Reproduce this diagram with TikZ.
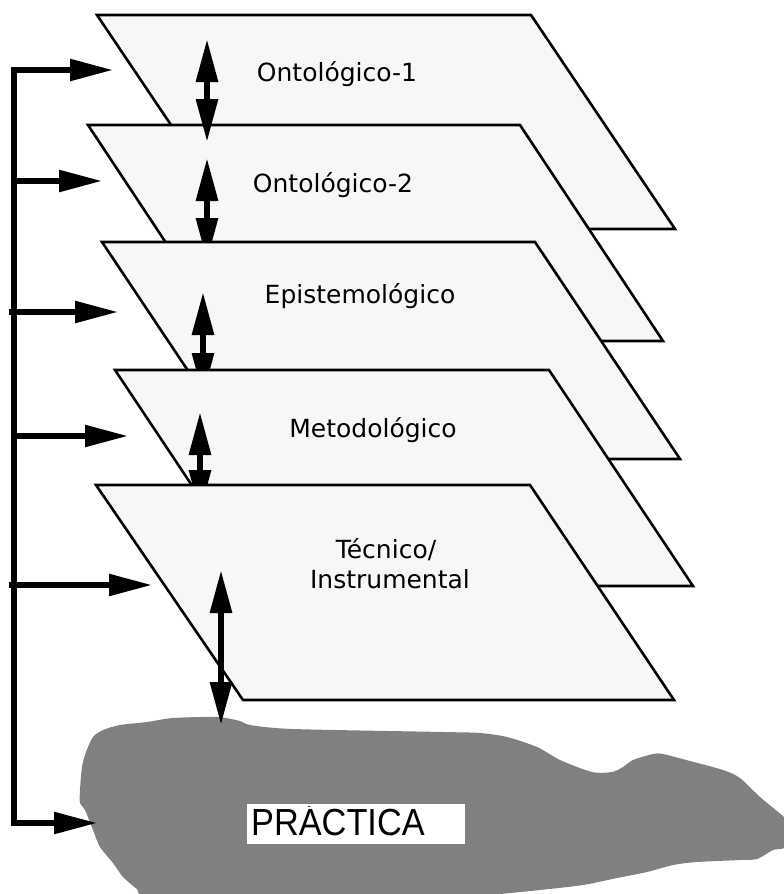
\documentclass[tikz,border=0pt]{standalone}
\usepackage{fontspec}
\setmainfont{DejaVu Sans}
\newfontfamily\pracfont{Liberation Sans}
\usetikzlibrary{arrows.meta}
\definecolor{planefill}{RGB}{247,247,247}
\definecolor{blobgray}{RGB}{128,128,128}
\tikzset{
  plane/.style={draw=black, line width=2.6pt, fill=planefill, line join=miter},
  feed/.style={line width=5.5pt, -{Triangle[length=43pt,width=21pt]}},
  link/.style={line width=6pt, {Triangle[length=43pt,width=21pt]}-{Triangle[length=43pt,width=21pt]}},
  bracket/.style={line width=5.5pt, line join=miter, {Triangle[length=43pt,width=21pt]}-{Triangle[length=43pt,width=21pt]}},
  lbl/.style={font=\fontsize{25pt}{30pt}\selectfont, anchor=base, inner sep=0pt}
}
\begin{document}
\begin{tikzpicture}[x=1pt,y=-1pt]
\useasboundingbox (0,0) rectangle (784,894);
\begin{scope}
\clip (0,0) rectangle (784,894);
% practice blob
\fill[blobgray] plot[smooth cycle, tension=0.45] coordinates {
 (80,790) (82,767) (86,752) (93,737) (103,730) (120,725) (147,722) (173,718)
 (217,717) (240,721) (250,725) (293,729) (443,732) (480,733) (507,737)
 (537,747) (560,760) (592,772) (612,772) (623,767) (633,760) (653,754)
 (663,754) (690,761) (723,770) (740,778) (760,797) (784,817) (800,835)
 (784,848) (773,850) (757,859) (740,860) (697,862) (673,865) (647,872)
 (617,878) (583,885) (540,890) (490,895) (440,900) (300,905) (153,900)
 (137,889) (123,877) (113,863) (100,847) (93,830) (85,810) (80,803)};
\end{scope}
\node[fill=white, minimum width=218pt, minimum height=40pt, inner sep=0pt, anchor=north west] (practica) at (247,804) {};
\begin{scope}
\clip (247,806.5) rectangle (practica.south east);
\node[anchor=base west, inner sep=0pt, font=\pracfont\fontsize{37.7pt}{40pt}\selectfont] (practxt) at (251,835) {\scalebox{0.91}[1]{PRÁCTICA}};
\end{scope}

% planes
\draw[plane] (97,15) -- (531,15) -- (675,229) -- (241,229) -- cycle;
\draw[plane] (88,125) -- (520,125) -- (663,341) -- (231,341) -- cycle;
\node[lbl] (ont1) at (337,81) {Ontológico-1};
\coordinate (a1t) at (207,39); \coordinate (a1b) at (207,142);
\draw[link] (a1t) -- (a1b);
\node[lbl] (ont2) at (333,192) {Ontológico-2};
\coordinate (a2t) at (207,158); \coordinate (a2b) at (207,261);
\draw[link] (a2t) -- (a2b);
\draw[plane] (102,242) -- (535,242) -- (680,459) -- (247,459) -- cycle;
\node[lbl] (epi) at (360,303) {Epistemológico};
\coordinate (a3t) at (203,292); \coordinate (a3b) at (203,396);
\draw[link] (a3t) -- (a3b);
\draw[plane] (115,370) -- (549,370) -- (693,586) -- (259,586) -- cycle;
\node[lbl] (met) at (373,437) {Metodológico};
\coordinate (a4t) at (200,412); \coordinate (a4b) at (200,513);
\draw[link] (a4t) -- (a4b);
\draw[plane] (96,485) -- (530,485) -- (674,700) -- (243,700) -- cycle;
\node[lbl] (tec1) at (386,558) {Técnico/};
\node[lbl] (tec2) at (390,588) {Instrumental};
\coordinate (a5t) at (221,570); \coordinate (a5b) at (221,725);
\draw[link] (a5t) -- (a5b);

% feedback bracket
\coordinate (f1) at (113,70);
\coordinate (c1) at (14,70);
\coordinate (c6) at (14,823);
\coordinate (f6) at (97,823);
\draw[bracket] (f1) -- (c1) -- (c6) -- (f6);
\coordinate (s2) at (14,181); \coordinate (f2) at (102,181);
\coordinate (s3) at (9,312);  \coordinate (f3) at (118,312);
\coordinate (s4) at (14,436); \coordinate (f4) at (128,436);
\coordinate (s5) at (9,585);  \coordinate (f5) at (152,585);
\draw[feed] (s2) -- (f2);
\draw[feed] (s3) -- (f3);
\draw[feed] (s4) -- (f4);
\draw[feed] (s5) -- (f5);
\end{tikzpicture}
\end{document}
